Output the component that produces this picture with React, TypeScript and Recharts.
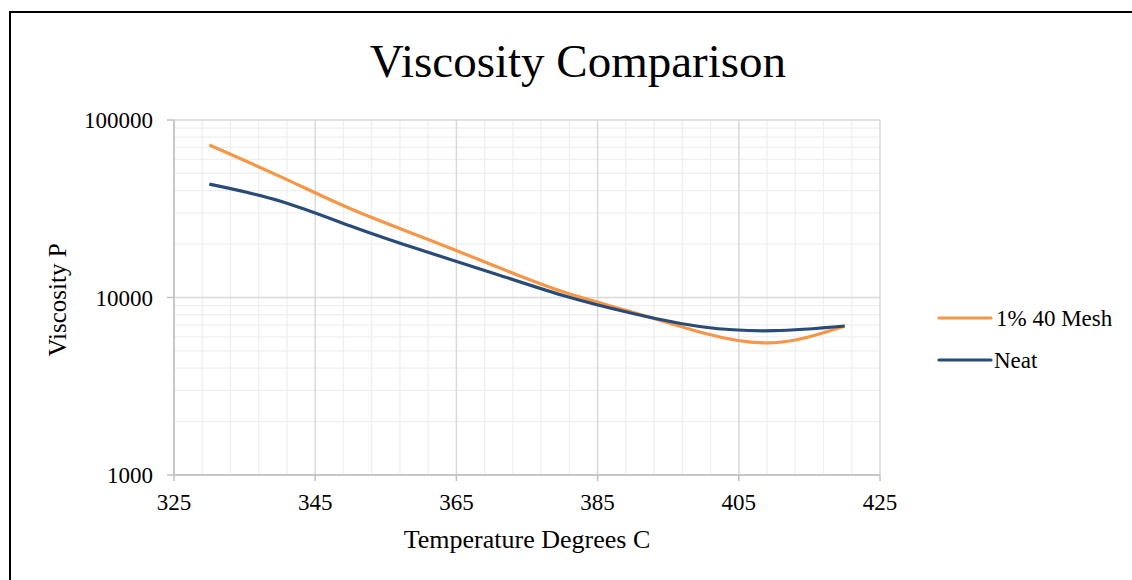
import React from 'react';
import { LineChart, Line, XAxis, YAxis, CartesianGrid } from 'recharts';

const temperatures = [330, 340, 350, 360, 370, 380, 390, 400, 410, 420];
const mesh40 = [72300, 48100, 31600, 22000, 15300, 10800, 8260, 6310, 5560, 6910];
const neat = [43500, 35000, 25300, 18500, 13800, 10300, 8130, 6820, 6500, 6910];

const xTicks = [325, 345, 365, 385, 405, 425];
const xMinor = [329, 333, 337, 341, 349, 353, 357, 361, 369, 373, 377, 381, 389, 393, 397, 401, 409, 413, 417, 421];
const yTicks = [1000, 10000, 100000];
const yMinor = [2000, 3000, 4000, 5000, 6000, 7000, 8000, 9000, 20000, 30000, 40000, 50000, 60000, 70000, 80000, 90000];

const seriesNames = ['1% 40 Mesh', 'Neat'];
const ORANGE = '#F79646';
const BLUE = '#284B78';
const FONT = 'Liberation Serif, Times New Roman, serif';

const data = temperatures.map((t, i) => ({ t, mesh: mesh40[i], neat: neat[i] }));

const XTick = (props: any) => (
  <text x={props.x} y={props.y} dy="0.71em" textAnchor="middle" fontFamily={FONT} fontSize={23} fill="#000">
    {props.payload.value}
  </text>
);

const YTick = (props: any) => (
  <text x={props.x} y={props.y} dy="0.35em" textAnchor="end" fontFamily={FONT} fontSize={23} fill="#000">
    {props.payload.value}
  </text>
);

export default function App() {
  return (
    <div style={{ position: 'absolute', left: 0, top: 0, width: 1132, height: 580, overflow: 'hidden', background: '#fff', fontFamily: FONT }}>
      <div style={{ position: 'absolute', left: 9, top: 11, width: 1300, height: 800, borderLeft: '2px solid #000', borderTop: '2px solid #000' }} />
      <div style={{ position: 'absolute', left: 0, top: 0 }}>
        <LineChart width={1132} height={580} data={data} margin={{ top: 120, right: 252, bottom: 0, left: 0 }}>
          <CartesianGrid stroke="#efefef" strokeWidth={1.25} verticalValues={xMinor} horizontalValues={yMinor} />
          <CartesianGrid stroke="#d9d9d9" strokeWidth={1.5} verticalValues={xTicks} horizontalValues={yTicks} />
          <XAxis
            dataKey="t"
            type="number"
            domain={[325, 425]}
            ticks={xTicks}
            height={105}
            tickSize={6}
            tickMargin={13}
            axisLine={{ stroke: '#bfbfbf', strokeWidth: 1.5 }}
            tickLine={{ stroke: '#bfbfbf', strokeWidth: 1.5 }}
            tick={<XTick />}
            interval={0}
          />
          <YAxis
            scale="log"
            type="number"
            domain={[1000, 100000]}
            ticks={yTicks}
            width={174}
            tickSize={7}
            tickMargin={14}
            allowDataOverflow
            axisLine={{ stroke: '#bfbfbf', strokeWidth: 1.5 }}
            tickLine={{ stroke: '#bfbfbf', strokeWidth: 1.5 }}
            tick={<YTick />}
            interval={0}
          />
          <Line type="natural" dataKey="mesh" name={seriesNames[0]} stroke={ORANGE} strokeWidth={3.2} dot={false} isAnimationActive={false} />
          <Line type="natural" dataKey="neat" name={seriesNames[1]} stroke={BLUE} strokeWidth={3.2} dot={false} isAnimationActive={false} />
        </LineChart>
      </div>
      <svg width={1132} height={580} style={{ position: 'absolute', left: 0, top: 0, pointerEvents: 'none' }}>
        <text x={578} y={77} textAnchor="middle" fontFamily={FONT} fontSize={47} fill="#000">Viscosity Comparison</text>
        <text x={527} y={548} textAnchor="middle" fontFamily={FONT} fontSize={26} fill="#000">Temperature Degrees C</text>
        <text transform="translate(66,300) rotate(-90)" x={0} y={0} textAnchor="middle" fontFamily={FONT} fontSize={25} fill="#000">Viscosity P</text>
        <line x1={939} y1={318} x2={991} y2={318} stroke={ORANGE} strokeWidth={3.2} strokeLinecap="round" />
        <text x={996} y={326} fontFamily={FONT} fontSize={23} fill="#000">{seriesNames[0]}</text>
        <line x1={939} y1={360} x2={991} y2={360} stroke={BLUE} strokeWidth={3.2} strokeLinecap="round" />
        <text x={994} y={368} fontFamily={FONT} fontSize={23} fill="#000">{seriesNames[1]}</text>
      </svg>
    </div>
  );
}
